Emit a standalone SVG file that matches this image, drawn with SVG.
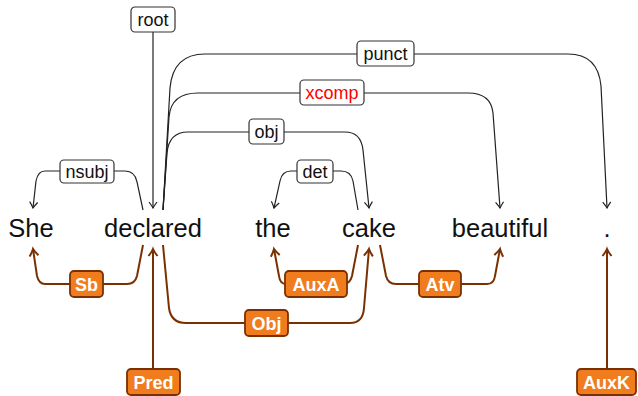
<svg xmlns="http://www.w3.org/2000/svg" width="638" height="396" viewBox="0 0 638 396">
<style>
.word{font-family:"Liberation Sans",Arial,sans-serif;font-size:25.5px;fill:#111;text-anchor:middle}
.tl{font-family:"Liberation Sans",Arial,sans-serif;font-size:18px;fill:#111;text-anchor:middle}
.bl{font-family:"Liberation Sans",Arial,sans-serif;font-size:18px;font-weight:bold;fill:#fff;text-anchor:middle}
.tbox{fill:#fff;stroke:#333;stroke-width:1.2}
.bbox{fill:#f07c1e;stroke:#7a3000;stroke-width:1.8}
.te{fill:none;stroke:#222;stroke-width:1.2;marker-end:url(#ah)}
.be{fill:none;stroke:#7a3000;stroke-width:2;marker-end:url(#bh)}
</style>
<defs>
<marker id="ah" markerUnits="userSpaceOnUse" markerWidth="12" markerHeight="12" refX="0" refY="0" orient="auto" overflow="visible">
<path d="M -6 -4 Q -2 -1 0 0 Q -2 1 -6 4" fill="none" stroke="#222" stroke-width="1.2"/>
</marker>
<marker id="bh" markerUnits="userSpaceOnUse" markerWidth="12" markerHeight="12" refX="0" refY="0" orient="auto" overflow="visible">
<path d="M -7 -4.5 Q -2.5 -1 0 0 Q -2.5 1 -7 4.5" fill="none" stroke="#7a3000" stroke-width="2"/>
</marker>
</defs>
<g id="connectors">
<path class="te" d="M 153 32 L 153 208"/>
<path class="te" d="M 143 210 L 137 182 Q 135 171 125 171 L 45 171 Q 38 171 36 181 L 33 208"/>
<path class="te" d="M 358 210 L 353 181 Q 351 171 341 171 L 291 171 Q 282 171 280 181 L 274 208"/>
<path class="te" d="M 163 210 L 167 153 Q 169 132 188 132 L 345 132 Q 361 132 363 150 L 369 208"/>
<path class="te" d="M 163 210 L 169 117 Q 171 93 198 93 L 468 93 Q 491 93 493 113 L 500 208"/>
<path class="te" d="M 163 210 L 170 88 Q 173 54 205 54 L 568 54 Q 598 54 601 86 L 607 208"/>
<path class="be" d="M 143 245 L 137 276 Q 135 284 127 284 L 45 284 Q 39 284 37 276 L 33 249"/>
<path class="be" d="M 153 369 L 153 249"/>
<path class="be" d="M 163 245 L 169 308 Q 171 323 186 323 L 350 323 Q 363 323 364 308 L 369 249"/>
<path class="be" d="M 358 245 L 352 276 Q 350 284 343 284 L 286 284 Q 280 284 279 276 L 274 249"/>
<path class="be" d="M 380 245 L 386 276 Q 388 284 396 284 L 487 284 Q 494 284 495 276 L 500 249"/>
<path class="be" d="M 607 369 L 607 249"/>
</g>
<g id="w-she"><text class="word" x="31" y="237">She</text></g>
<g id="w-declared"><text class="word" x="153" y="237">declared</text></g>
<g id="w-the"><text class="word" x="273" y="237">the</text></g>
<g id="w-cake"><text class="word" x="369" y="237">cake</text></g>
<g id="w-beautiful"><text class="word" x="500" y="237">beautiful</text></g>
<g id="w-dot"><text class="word" x="607" y="237">.</text></g>
<g id="l-root"><rect class="tbox" x="131" y="7" width="44" height="25" rx="4"/><text class="tl" x="153" y="26">root</text></g>
<g id="l-nsubj"><rect class="tbox" x="60" y="160" width="54" height="23" rx="4"/><text class="tl" x="87" y="177.5">nsubj</text></g>
<g id="l-det"><rect class="tbox" x="297" y="160" width="36" height="23" rx="4"/><text class="tl" x="315" y="177.5">det</text></g>
<g id="l-obj"><rect class="tbox" x="249" y="119" width="35" height="25" rx="4"/><text class="tl" x="266.5" y="137.5">obj</text></g>
<g id="l-xcomp"><rect class="tbox" x="300" y="80" width="64" height="25" rx="4"/><text class="tl" x="332" y="98.5" style="fill:#ff0000">xcomp</text></g>
<g id="l-punct"><rect class="tbox" x="357" y="41" width="57" height="25" rx="4"/><text class="tl" x="385.5" y="59.5">punct</text></g>
<g id="l-sb"><rect class="bbox" x="70" y="271" width="33" height="26" rx="4"/><text class="bl" x="86.5" y="290.5">Sb</text></g>
<g id="l-pred"><rect class="bbox" x="127" y="369" width="53" height="26" rx="4"/><text class="bl" x="153.5" y="388.5">Pred</text></g>
<g id="l-objb"><rect class="bbox" x="245" y="310" width="43" height="26" rx="4"/><text class="bl" x="266.5" y="329.5">Obj</text></g>
<g id="l-auxa"><rect class="bbox" x="285" y="271" width="62" height="26" rx="4"/><text class="bl" x="316" y="290.5">AuxA</text></g>
<g id="l-atv"><rect class="bbox" x="419" y="271" width="42" height="26" rx="4"/><text class="bl" x="440" y="290.5">Atv</text></g>
<g id="l-auxk"><rect class="bbox" x="577" y="369" width="59" height="26" rx="4"/><text class="bl" x="606.5" y="388.5">AuxK</text></g>
</svg>
